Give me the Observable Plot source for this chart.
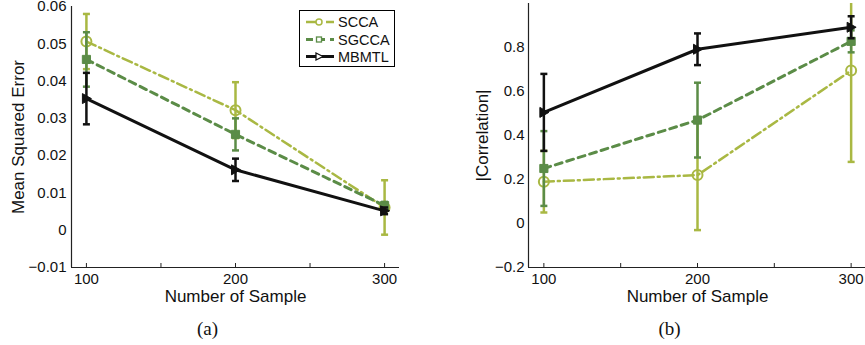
<!DOCTYPE html>
<html>
<head>
<meta charset="utf-8">
<script src="https://cdn.jsdelivr.net/npm/d3@7"></script>
<script src="https://cdn.jsdelivr.net/npm/@observablehq/plot@0.6"></script>
<style>
  html, body { margin: 0; padding: 0; background: #fff; }
  #wrap { position: relative; width: 865px; height: 345px; overflow: hidden; font-family: "Liberation Sans", Arial, sans-serif; }
  #wrap > .p { position: absolute; top: 0; }
  #legend { position: absolute; left: 299px; top: 10px; width: 94px; height: 55px; border: 1.5px solid #000; background: #fff; }
</style>
</head>
<body>
<div id="wrap"></div>
<script>
// ---------- data ----------
const samples = [100, 200, 300];
const seriesNames = ["SCCA", "SGCCA", "MBMTL"];
const seriesColors = ["#a9b843", "#5b8c47", "#111111"];

// (a) Mean Squared Error
const mseSCCA = [0.0506, 0.0322, 0.0061];
const mseSCCAErr = [0.0074, 0.0075, 0.0073];
const mseSGCCA = [0.0458, 0.0257, 0.0066];
const mseSGCCAErr = [0.0073, 0.0043, 0.0010];
const mseMBMTL = [0.0353, 0.0162, 0.0052];
const mseMBMTLErr = [0.0069, 0.0030, 0.0009];

// (b) |Correlation|
const corrSCCA = [0.19, 0.22, 0.695];
const corrSCCAErr = [0.14, 0.25, 0.415];
const corrSGCCA = [0.25, 0.47, 0.828];
const corrSGCCAErr = [0.17, 0.17, 0.05];
const corrMBMTL = [0.505, 0.792, 0.892];
const corrMBMTLErr = [0.175, 0.072, 0.05];

const xTicks = [100, 150, 200, 250, 300];
const xTickLabels = [100, 200, 300];
const mseTicks = [-0.01, 0, 0.01, 0.02, 0.03, 0.04, 0.05, 0.06];
const corrTicks = [-0.2, 0, 0.2, 0.4, 0.6, 0.8];

// ---------- helpers ----------
function rows(vals, errs, s) {
  return samples.map((x, i) => ({x, y: vals[i], lo: vals[i] - errs[i], hi: vals[i] + errs[i], s}));
}
const capSymbol = {draw(ctx, size) { const r = Math.sqrt(size / Math.PI); ctx.moveTo(-r, 0); ctx.lineTo(r, 0); }};
const triRight = {draw(ctx, size) { const r = Math.sqrt(size / Math.PI); ctx.moveTo(r, 0); ctx.lineTo(-r * 0.8, -r); ctx.lineTo(-r * 0.8, r); ctx.closePath(); }};
const styles = [
  {dash: "10,4,2,4", width: 2.5, marker: "circle", r: 5, fill: "none", sw: 2},
  {dash: "7,5", width: 3, marker: "square", r: 4.6, fill: seriesColors[1], sw: 1},
  {dash: null, width: 3, marker: triRight, r: 5, fill: seriesColors[2], sw: 1}
];
const fmt = d => String(+d.toFixed(2)).replace("-", "\u2212");
const SANS = "Liberation Sans, Arial, sans-serif";
const TICK_FS = 15;

function seriesMarks(data, i) {
  const c = seriesColors[i], st = styles[i];
  return [
    Plot.line(data, {x: "x", y: "y", stroke: c, strokeWidth: st.width, strokeDasharray: st.dash, clip: true}),
    Plot.ruleX(data, {x: "x", y1: "lo", y2: "hi", stroke: c, strokeWidth: 2.5, clip: true}),
    Plot.dot(data, {x: "x", y: "hi", symbol: capSymbol, r: 3.5, stroke: c, strokeWidth: 2.5, clip: true}),
    Plot.dot(data, {x: "x", y: "lo", symbol: capSymbol, r: 3.5, stroke: c, strokeWidth: 2.5, clip: true}),
    Plot.dot(data, {x: "x", y: "y", symbol: st.marker, r: st.r, fill: st.fill, stroke: c, strokeWidth: st.sw})
  ];
}

function panel({series, yDomain, yTicks, ylabel, caption, width, marginLeft, marginRight, marginTop, tickPadding, labelDx}) {
  const height = 345, marginBottom = 78;
  const innerH = height - marginTop - marginBottom;
  const xDomain = [90, 310];
  return Plot.plot({
    width, height, marginLeft, marginRight, marginTop, marginBottom,
    style: {fontFamily: SANS, fontSize: "14px", color: "#111", background: "transparent", overflow: "visible"},
    x: {domain: xDomain, axis: null},
    y: {domain: yDomain, axis: null},
    marks: [
      ...series.flatMap((d, i) => seriesMarks(d, i)),
      Plot.ruleX([xDomain[0]], {stroke: "#222", strokeWidth: 1.2}),
      Plot.ruleY([yDomain[0]], {stroke: "#222", strokeWidth: 1.2}),
      Plot.tickX(xTicks, {x: d => d, insetTop: innerH - 4, stroke: "#222", strokeWidth: 1}),
      Plot.text(xTickLabels, {x: d => d, text: d => String(d), frameAnchor: "bottom", dy: 11.5, fontSize: TICK_FS, fontFamily: SANS, textAnchor: "middle", lineAnchor: "middle", fill: "#111"}),
      Plot.text(yTicks, {y: d => d, text: fmt, frameAnchor: "left", dx: -tickPadding, fontSize: TICK_FS, fontFamily: SANS, textAnchor: "end", lineAnchor: "middle", fill: "#111"}),
      Plot.text([ylabel], {frameAnchor: "left", rotate: -90, dx: labelDx, fontSize: 17, fontFamily: SANS, textAnchor: "middle", lineAnchor: "middle", fill: "#111"}),
      Plot.text(["Number of Sample"], {frameAnchor: "bottom", dy: 29, fontSize: 17, fontFamily: SANS, textAnchor: "middle", lineAnchor: "middle", fill: "#111"}),
      Plot.text([caption], {frameAnchor: "bottom", dy: 61, dx: -28, fontSize: 19, fontFamily: "Liberation Serif, Times New Roman, serif", textAnchor: "middle", lineAnchor: "middle", fill: "#111"})
    ]
  });
}

const left = panel({
  series: [rows(mseSCCA, mseSCCAErr, "SCCA"), rows(mseSGCCA, mseSGCCAErr, "SGCCA"), rows(mseMBMTL, mseMBMTLErr, "MBMTL")],
  yDomain: [-0.01, 0.06], yTicks: mseTicks, ylabel: "Mean Squared Error", caption: "(a)",
  width: 432, marginLeft: 71, marginRight: 33, marginTop: 6, tickPadding: 5, labelDx: -53
});
const right = panel({
  series: [rows(corrSCCA, corrSCCAErr, "SCCA"), rows(corrSGCCA, corrSGCCAErr, "SGCCA"), rows(corrMBMTL, corrMBMTLErr, "MBMTL")],
  yDomain: [-0.2, 1.0], yTicks: corrTicks, ylabel: "|Correlation|", caption: "(b)",
  width: 434, marginLeft: 96, marginRight: 0, marginTop: 3, tickPadding: 4, labelDx: -46
});

const wrap = document.getElementById("wrap");
left.classList.add("p"); left.style.left = "0px";
right.classList.add("p"); right.style.left = "432px";
wrap.appendChild(left);
wrap.appendChild(right);

// ---------- legend ----------
const lg = document.createElement("div");
lg.id = "legend";
const rowsY = [11, 28.5, 45.5];
let svg = `<svg width="94" height="55" xmlns="http://www.w3.org/2000/svg" style="font-family:'Liberation Sans',Arial,sans-serif">`;
seriesNames.forEach((name, i) => {
  const y = rowsY[i], c = seriesColors[i], st = styles[i];
  svg += `<line x1="6" x2="34" y1="${y}" y2="${y}" stroke="${c}" stroke-width="${st.width}" ${st.dash ? `stroke-dasharray="${st.dash}"` : ""}/>`;
  if (i === 0) svg += `<circle cx="19" cy="${y}" r="3" fill="#fff" stroke="${c}" stroke-width="1.5"/>`;
  if (i === 1) svg += `<rect x="16.5" y="${y - 2.5}" width="5" height="5" fill="#fff" stroke="${c}" stroke-width="1.3"/>`;
  if (i === 2) svg += `<path d="M23,${y} L16,${y - 3.5} L16,${y + 3.5} Z" fill="#fff" stroke="${c}" stroke-width="1.3"/>`;
  svg += `<text x="38" y="${y}" dy="0.35em" font-size="14.5" fill="#111">${name}</text>`;
});
svg += `</svg>`;
lg.innerHTML = svg;
wrap.appendChild(lg);
</script>
</body>
</html>
